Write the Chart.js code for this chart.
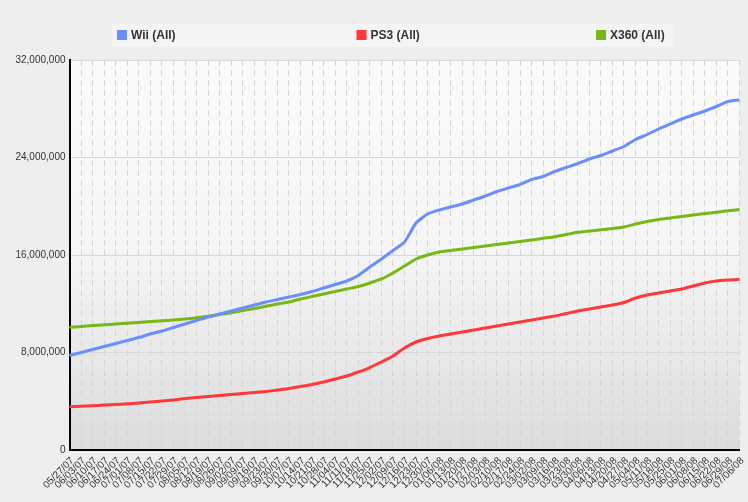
<!DOCTYPE html>
<html>
<head>
<meta charset="utf-8">
<script src="https://cdn.jsdelivr.net/npm/chart.js@4"></script>
<style>
  html, body { margin: 0; padding: 0; background: #eeeeee; }
  #wrap { width: 748px; height: 502px; }
</style>
</head>
<body>
<div id="wrap"><canvas id="myChart" width="748" height="502"></canvas></div>
<script>
// weekly totals, one label per week
const weeks = [
  '05/27/07', '06/03/07', '06/10/07', '06/17/07', '06/24/07', '07/01/07', '07/08/07', '07/15/07',
  '07/22/07', '07/29/07', '08/05/07', '08/12/07', '08/19/07', '08/26/07', '09/02/07', '09/09/07',
  '09/16/07', '09/23/07', '09/30/07', '10/07/07', '10/14/07', '10/21/07', '10/28/07', '11/04/07',
  '11/11/07', '11/18/07', '11/25/07', '12/02/07', '12/09/07', '12/16/07', '12/23/07', '12/30/07',
  '01/06/08', '01/13/08', '01/20/08', '01/27/08', '02/03/08', '02/10/08', '02/17/08', '02/24/08',
  '03/02/08', '03/09/08', '03/16/08', '03/23/08', '03/30/08', '04/06/08', '04/13/08', '04/20/08',
  '04/27/08', '05/04/08', '05/11/08', '05/18/08', '05/25/08', '06/01/08', '06/08/08', '06/15/08',
  '06/22/08', '06/29/08', '07/06/08'
]

const wiiTotals = [
  7754000, 8000000, 8246000, 8492000, 8738000, 8985000, 9231000, 9518000,
  9764000, 10051000, 10338000, 10626000, 10913000, 11159000, 11405000, 11651000,
  11897000, 12144000, 12349000, 12554000, 12759000, 13005000, 13292000, 13579000,
  13867000, 14318000, 15015000, 15672000, 16369000, 17067000, 18626000, 19364000,
  19692000, 19938000, 20185000, 20513000, 20841000, 21210000, 21497000, 21785000,
  22195000, 22441000, 22851000, 23179000, 23508000, 23877000, 24164000, 24533000,
  24903000, 25477000, 25887000, 26338000, 26749000, 27159000, 27487000, 27815000,
  28185000, 28595000, 28718000
]

const ps3Totals = [
  3553000, 3594000, 3635000, 3684000, 3733000, 3791000, 3856000, 3938000,
  4021000, 4103000, 4226000, 4308000, 4390000, 4472000, 4554000, 4636000,
  4718000, 4800000, 4923000, 5046000, 5210000, 5374000, 5579000, 5826000,
  6072000, 6400000, 6769000, 7221000, 7713000, 8369000, 8862000, 9149000,
  9354000, 9518000, 9682000, 9846000, 10010000, 10174000, 10338000, 10503000,
  10667000, 10831000, 10995000, 11200000, 11405000, 11569000, 11733000, 11897000,
  12103000, 12472000, 12718000, 12882000, 13046000, 13210000, 13456000, 13703000,
  13867000, 13949000, 14006000
]

const x360Totals = [
  10068000, 10133000, 10207000, 10273000, 10338000, 10404000, 10470000, 10535000,
  10601000, 10667000, 10749000, 10847000, 10970000, 11118000, 11266000, 11446000,
  11610000, 11791000, 11979000, 12144000, 12390000, 12595000, 12800000, 13005000,
  13210000, 13415000, 13703000, 14031000, 14523000, 15097000, 15672000, 16000000,
  16246000, 16369000, 16492000, 16615000, 16738000, 16862000, 16985000, 17108000,
  17231000, 17370000, 17493000, 17682000, 17862000, 17969000, 18068000, 18174000,
  18297000, 18544000, 18749000, 18913000, 19036000, 19159000, 19282000, 19397000,
  19512000, 19627000, 19733000
]

const yMax = 32000000
const yStep = 8000000

Chart.defaults.font.family = '"Liberation Sans", Arial, sans-serif'
Chart.defaults.font.size = 10
Chart.defaults.color = '#333333'

// grey gradient behind the lines
const plotBackground = {
  id: 'plotBackground',
  beforeDraw(chart) {
    const {ctx, chartArea: a} = chart
    const g = ctx.createLinearGradient(0, a.top, 0, a.bottom)
    g.addColorStop(0, '#fbfbfb')
    g.addColorStop(0.5, '#f5f5f5')
    g.addColorStop(1, '#dcdcdc')
    ctx.save()
    ctx.fillStyle = g
    ctx.fillRect(a.left, a.top, a.right - a.left, a.bottom - a.top)
    ctx.restore()
  }
}

// legend in a light strip with evenly spread items
const stripLegend = {
  id: 'stripLegend',
  afterDraw(chart) {
    const ctx = chart.ctx
    ctx.save()
    ctx.fillStyle = '#f4f4f4'
    ctx.fillRect(112, 24, 562, 23)
    ctx.font = 'bold 12px "Liberation Sans", Arial, sans-serif'
    ctx.textBaseline = 'middle'
    chart.data.datasets.forEach((ds, i) => {
      const x = 117 + i * 239.5
      ctx.fillStyle = ds.borderColor
      ctx.fillRect(x, 30, 10, 10)
      ctx.fillStyle = '#333333'
      ctx.fillText(ds.label, x + 14, 35.5)
    })
    ctx.restore()
  }
}

new Chart(document.getElementById('myChart'), {
  type: 'line',
  plugins: [plotBackground, stripLegend],
  data: {
    labels: weeks,
    datasets: [
      {
        label: 'Wii (All)',
        data: wiiTotals,
        borderColor: '#6b8eff',
        backgroundColor: '#6b8eff',
        borderWidth: 3,
        pointRadius: 0,
        tension: 0.2
      },
      {
        label: 'PS3 (All)',
        data: ps3Totals,
        borderColor: '#ff3838',
        backgroundColor: '#ff3838',
        borderWidth: 3,
        pointRadius: 0,
        tension: 0.2
      },
      {
        label: 'X360 (All)',
        data: x360Totals,
        borderColor: '#78b814',
        backgroundColor: '#78b814',
        borderWidth: 3,
        pointRadius: 0,
        tension: 0.2
      }
    ]
  },
  options: {
    responsive: false,
    animation: false,
    layout: {padding: {top: 60, right: 8.5, bottom: 0, left: 0}},
    plugins: {
      legend: {display: false},
      tooltip: {enabled: false}
    },
    scales: {
      x: {
        grid: {color: '#d4d4d4', lineWidth: 1, drawTicks: false},
        border: {display: true, color: '#000000', width: 2, dash: [6, 4]},
        ticks: {autoSkip: false, minRotation: 45, maxRotation: 45, padding: 5, labelOffset: 3},
        afterFit(s) {
          s.height = 52
          s.paddingLeft = 0
          s.paddingRight = 0
        }
      },
      y: {
        min: 0,
        max: yMax,
        grid: {color: '#d8d8d8', lineWidth: 1, drawTicks: false},
        border: {display: true, color: '#000000', width: 2},
        ticks: {
          stepSize: yStep,
          padding: 4,
          callback: v => v.toLocaleString('en-US')
        },
        afterFit(s) {
          s.width = 69.5
          s.paddingTop = 0
          s.paddingBottom = 0
        }
      }
    }
  }
})
</script>
</body>
</html>
